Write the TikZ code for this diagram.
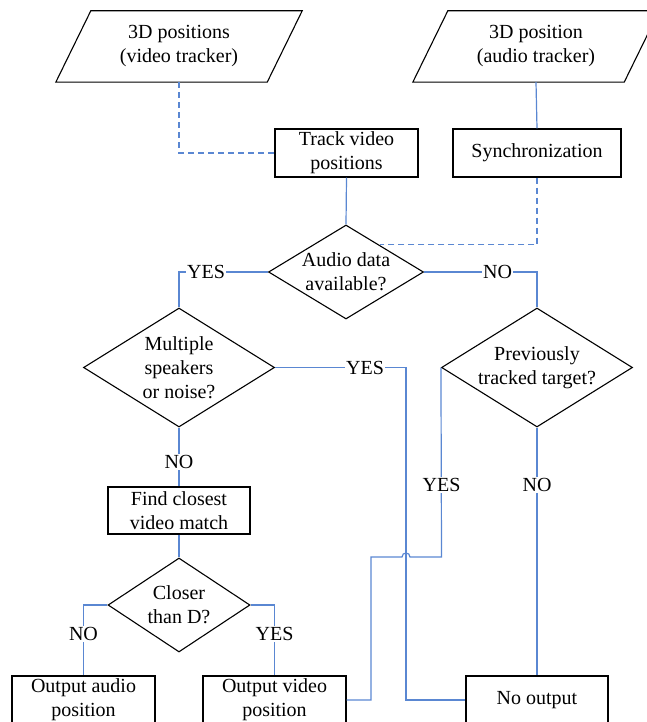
\documentclass[tikz,border=0pt]{standalone}
\usepackage{fontspec}
\setmainfont{Liberation Serif}
\usetikzlibrary{shapes.geometric,calc}
\definecolor{conn}{RGB}{90,135,210}
\tikzset{
  base/.style={font=\fontsize{20}{24}\selectfont, align=center, inner sep=0pt},
  box/.style={base, draw=black, line width=1.1pt, rectangle, minimum height=48, minimum width=143},
  dia/.style={draw=black, line width=1.1pt, diamond, inner sep=0pt},
  txt/.style={base},
  lab/.style={font=\fontsize{20}{24}\selectfont, fill=white, inner sep=1.5pt},
  link/.style={draw=conn, line width=1.2pt},
  dlink/.style={link, dash pattern=on 6pt off 4pt},
  para/.style={draw=black, line width=1.1pt, line join=miter}
}
\begin{document}
\begin{tikzpicture}[x=1pt,y=-1pt]
\useasboundingbox (0,0) rectangle (647,722);
\clip (0,0) rectangle (647,722);

% input parallelograms
\node[txt, minimum width=211, minimum height=71] (pv) at (179,46.5) {3D positions\\(video tracker)};
\node[txt, minimum width=211, minimum height=71] (pa) at (536,46.5) {3D position\\(audio tracker)};
\draw[para] ([xshift=-17.5pt]pv.south west) -- ([xshift=17.5pt]pv.north west) -- ([xshift=17.5pt]pv.north east) -- ([xshift=-17.5pt]pv.south east) -- cycle;
\draw[para] ([xshift=-17.5pt]pa.south west) -- ([xshift=17.5pt]pa.north west) -- ([xshift=17.5pt]pa.north east) -- ([xshift=-17.5pt]pa.south east) -- cycle;

% boxes
\node[box] (tv) at (346.5,153) {Track video\\positions};
\node[box, minimum width=168] (sy) at (537,153) {Synchronization};
\node[box, minimum width=142, minimum height=47] (fc) at (179,510.5) {Find closest\\video match};
\node[box] (oa) at (83.5,700) {Output audio\\position};
\node[box] (ov) at (274.5,700) {Output video\\position};
\node[box, minimum width=142] (no) at (537,700) {No output};

% diamonds
\node[dia, minimum width=155, minimum height=94] (d1) at (346,272) {};
\node[txt] (d1t) at (d1) {Audio data\\available?};
\node[dia, minimum width=191, minimum height=119] (ms) at (179,367.5) {};
\node[txt] (mst) at (ms) {Multiple\\speakers\\or noise?};
\node[dia, minimum width=191, minimum height=119] (pt) at (537,367.5) {};
\node[txt] (ptt) at (pt) {Previously\\tracked target?};
\node[dia, minimum width=142, minimum height=94] (cd) at (179,605) {};
\node[txt] (cdt) at (cd) {Closer\\than D?};

% helper coordinates
\coordinate (c1) at (406,367.5);
\coordinate (c2) at (441.5,557);
\coordinate (c3) at (371,557);

% connectors
\draw[dlink] (pv.south) |- (tv.west);
\draw[link] (pa.south) -- (sy.north);
\draw[link] (tv.south) -- (d1.north);
\draw[dlink] (sy.south) |- ($(d1.north)!0.43!(d1.east)$);
\draw[link] (d1.west) -| (ms.north);
\draw[link] (d1.east) -| (pt.north);
\draw[link] (ms.south) -- (fc.north);
\draw[link] (fc.south) -- (cd.north);
\draw[link] (cd.west) -| (oa.north);
\draw[link] (cd.east) -| (ov.north);
\draw[link] (pt.south) -- (no.north);
\draw[link] (ms.east) -- (c1) |- (no.west);
\draw[link] (pt.west) -- (c2) -- ($(c1|-c2)+(4,0)$)
  .. controls ($(c1|-c2)+(4,-5.3)$) and ($(c1|-c2)+(-4,-5.3)$) .. ($(c1|-c2)+(-4,0)$)
  -- (c3) |- (ov.east);

% labels
\node[lab] (l1) at (206,272) {YES};
\node[lab] (l2) at (497.5,272) {NO};
\node[lab] (l3) at (365,367.5) {YES};
\node[lab] (l4) at (179,462) {NO};
\node[lab] (l5) at (441.5,485) {YES};
\node[lab] (l6) at (537,485) {NO};
\node[lab] (l7) at (83.5,634) {NO};
\node[lab] (l8) at (274.5,634) {YES};
\end{tikzpicture}
\end{document}
